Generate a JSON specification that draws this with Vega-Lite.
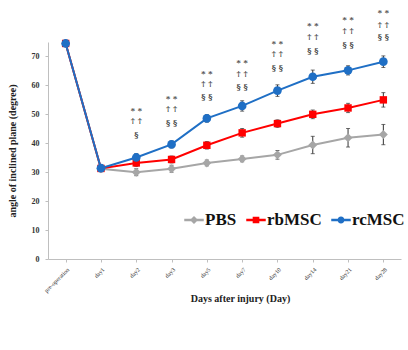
{
  "$schema": "https://vega.github.io/schema/vega-lite/v6.json",
  "width": 353,
  "height": 217,
  "autosize": {"type": "none"},
  "padding": {"left": 48, "top": 42, "right": 7, "bottom": 91},
  "background": "white",
  "config": {"view": {"stroke": null}, "font": "Liberation Serif"},
  "datasets": {
    "main": [
      {"day": "pre-operation", "series": "PBS", "value": 74.5, "err": 0.5},
      {"day": "day1", "series": "PBS", "value": 31.2, "err": 1.0},
      {"day": "day2", "series": "PBS", "value": 30.0, "err": 1.2},
      {"day": "day3", "series": "PBS", "value": 31.2, "err": 1.2},
      {"day": "day5", "series": "PBS", "value": 33.2, "err": 1.0},
      {"day": "day7", "series": "PBS", "value": 34.6, "err": 1.0},
      {"day": "day10", "series": "PBS", "value": 36.0, "err": 1.5},
      {"day": "day14", "series": "PBS", "value": 39.4, "err": 3.0},
      {"day": "day21", "series": "PBS", "value": 41.9, "err": 3.2},
      {"day": "day28", "series": "PBS", "value": 43.0, "err": 3.5},
      {"day": "pre-operation", "series": "rbMSC", "value": 74.5, "err": 0.5},
      {"day": "day1", "series": "rbMSC", "value": 31.3, "err": 1.0},
      {"day": "day2", "series": "rbMSC", "value": 33.2, "err": 1.2},
      {"day": "day3", "series": "rbMSC", "value": 34.4, "err": 1.2},
      {"day": "day5", "series": "rbMSC", "value": 39.3, "err": 1.3},
      {"day": "day7", "series": "rbMSC", "value": 43.6, "err": 1.5},
      {"day": "day10", "series": "rbMSC", "value": 46.8, "err": 1.3},
      {"day": "day14", "series": "rbMSC", "value": 50.0, "err": 1.5},
      {"day": "day21", "series": "rbMSC", "value": 52.2, "err": 1.6},
      {"day": "day28", "series": "rbMSC", "value": 55.0, "err": 2.5},
      {"day": "pre-operation", "series": "rcMSC", "value": 74.5, "err": 0.5},
      {"day": "day1", "series": "rcMSC", "value": 31.4, "err": 1.0},
      {"day": "day2", "series": "rcMSC", "value": 35.1, "err": 1.3},
      {"day": "day3", "series": "rcMSC", "value": 39.6, "err": 1.2},
      {"day": "day5", "series": "rcMSC", "value": 48.6, "err": 1.3},
      {"day": "day7", "series": "rcMSC", "value": 52.9, "err": 1.8},
      {"day": "day10", "series": "rcMSC", "value": 58.2, "err": 2.0},
      {"day": "day14", "series": "rcMSC", "value": 63.0, "err": 2.3},
      {"day": "day21", "series": "rcMSC", "value": 65.2, "err": 1.6},
      {"day": "day28", "series": "rcMSC", "value": 68.2, "err": 2.0}
    ],
    "ann": [
      {"day": "day2", "sym": "* *", "pos": 51.2},
      {"day": "day2", "sym": "† †", "pos": 47.7},
      {"day": "day2", "sym": "§", "pos": 42.8},
      {"day": "day3", "sym": "* *", "pos": 55.4},
      {"day": "day3", "sym": "† †", "pos": 51.9},
      {"day": "day3", "sym": "§ §", "pos": 47.0},
      {"day": "day5", "sym": "* *", "pos": 64.1},
      {"day": "day5", "sym": "† †", "pos": 60.6},
      {"day": "day5", "sym": "§ §", "pos": 55.9},
      {"day": "day7", "sym": "* *", "pos": 67.9},
      {"day": "day7", "sym": "† †", "pos": 64.1},
      {"day": "day7", "sym": "§ §", "pos": 59.4},
      {"day": "day10", "sym": "* *", "pos": 74.3},
      {"day": "day10", "sym": "† †", "pos": 70.7},
      {"day": "day10", "sym": "§ §", "pos": 65.9},
      {"day": "day14", "sym": "* *", "pos": 80.4},
      {"day": "day14", "sym": "† †", "pos": 76.6},
      {"day": "day14", "sym": "§ §", "pos": 71.8},
      {"day": "day21", "sym": "* *", "pos": 82.5},
      {"day": "day21", "sym": "† †", "pos": 78.7},
      {"day": "day21", "sym": "§ §", "pos": 73.9},
      {"day": "day28", "sym": "* *", "pos": 85.0},
      {"day": "day28", "sym": "† †", "pos": 81.0},
      {"day": "day28", "sym": "§ §", "pos": 76.6}
    ]
  },
  "encoding": {
    "x": {
      "field": "day",
      "type": "ordinal",
      "sort": ["pre-operation","day1","day2","day3","day5","day7","day10","day14","day21","day28"],
      "scale": {"type": "point", "padding": 0.5},
      "axis": {
        "title": "Days after injury (Day)",
        "titleFont": "Liberation Serif",
        "titleFontWeight": "bold",
        "titleFontSize": 10,
        "titleColor": "#222",
        "titlePadding": 0,
        "titleX": 192,
        "labelAngle": -45,
        "labelFontSize": 6,
        "labelColor": "#333",
        "labelPadding": 4,
        "domainColor": "#bfbfbf",
        "tickColor": "#bfbfbf",
        "tickSize": 3
      }
    },
    "y": {
      "field": "value",
      "type": "quantitative",
      "scale": {"domain": [0, 75], "nice": false},
      "axis": {
        "title": "angle of inclined plane (degree)",
        "titleFont": "Liberation Serif",
        "titleFontWeight": "bold",
        "titleFontSize": 10,
        "titleColor": "#222",
        "titlePadding": 14,
        "values": [0,10,20,30,40,50,60,70],
        "labelFontSize": 8,
        "labelFontWeight": "bold",
        "labelColor": "#333",
        "labelPadding": 6,
        "labelOverlap": false,
        "grid": false,
        "domainColor": "#bfbfbf",
        "tickColor": "#bfbfbf",
        "tickSize": 3
      }
    }
  },
  "layer": [
    {
      "data": {"name": "main"},
      "transform": [
        {"calculate": "datum.value - datum.err", "as": "lo"},
        {"calculate": "datum.value + datum.err", "as": "hi"}
      ],
      "mark": {"type": "rule", "color": "#333", "strokeWidth": 1},
      "encoding": {
        "y": {"field": "lo", "type": "quantitative"},
        "y2": {"field": "hi"}
      }
    },
    {
      "data": {"name": "main"},
      "transform": [
        {"calculate": "datum.value - datum.err", "as": "lo"},
        {"calculate": "datum.value + datum.err", "as": "hi"},
        {"fold": ["lo", "hi"], "as": ["end", "ev"]}
      ],
      "mark": {"type": "tick", "color": "#333", "size": 4, "thickness": 1},
      "encoding": {
        "y": {"field": "ev", "type": "quantitative"}
      }
    },
    {
      "data": {"name": "main"},
      "mark": {"type": "line", "strokeWidth": 2},
      "encoding": {
        "color": {
          "field": "series",
          "type": "nominal",
          "scale": {"domain": ["PBS","rbMSC","rcMSC"], "range": ["#a6a6a6","#ff0000","#1f6fc5"]},
          "legend": {
            "title": null,
            "orient": "none",
            "legendX": 136,
            "legendY": 168,
            "direction": "horizontal",
            "symbolSize": 380,
            "labelFont": "Liberation Serif",
            "labelFontWeight": "bold",
            "labelFontSize": 17,
            "labelColor": "#111",
            "labelOffset": 1,
            "columnPadding": 9,
            "symbolStrokeWidth": 0,
            "encode": {
              "symbols": {
                "update": {
                  "shape": {"signal": "datum.value === 'PBS' ? 'M-1,-0.12H1V0.12H-1Z M0,-0.42L0.42,0L0,0.42L-0.42,0Z' : datum.value === 'rbMSC' ? 'M-1,-0.13H1V0.13H-1Z M-0.34,-0.34H0.34V0.34H-0.34Z' : 'M-1,-0.12H1V0.12H-1Z M0.36,0A0.36,0.36,0,1,1,-0.36,0A0.36,0.36,0,1,1,0.36,0Z'"},
                  "fill": {"signal": "datum.value === 'PBS' ? '#a6a6a6' : datum.value === 'rbMSC' ? '#ff0000' : '#1f6fc5'"},
                  "strokeWidth": {"value": 0},
                  "opacity": {"value": 1}
                }
              }
            }
          }
        }
      }
    },
    {
      "data": {"name": "main"},
      "transform": [{"filter": "datum.series === 'PBS'"}],
      "mark": {"type": "point", "filled": true, "opacity": 1, "shape": "diamond", "size": 80},
      "encoding": {"color": {"field": "series", "type": "nominal"}}
    },
    {
      "data": {"name": "main"},
      "transform": [{"filter": "datum.series === 'rbMSC'"}],
      "mark": {"type": "point", "filled": true, "opacity": 1, "shape": "square", "size": 55},
      "encoding": {"color": {"field": "series", "type": "nominal"}}
    },
    {
      "data": {"name": "main"},
      "transform": [{"filter": "datum.series === 'rcMSC'"}],
      "mark": {"type": "point", "filled": true, "opacity": 1, "shape": "circle", "size": 75},
      "encoding": {"color": {"field": "series", "type": "nominal"}}
    },
    {
      "data": {"name": "ann"},
      "mark": {"type": "text", "fontSize": 8, "fontWeight": "bold", "color": "#444", "font": "DejaVu Serif", "baseline": "middle"},
      "encoding": {
        "y": {"field": "pos", "type": "quantitative"},
        "text": {"field": "sym"}
      }
    }
  ]
}
